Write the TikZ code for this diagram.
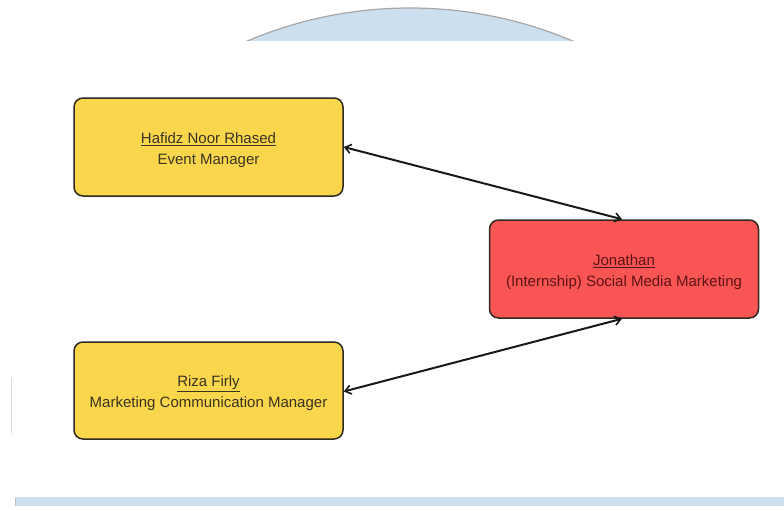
\documentclass[tikz,border=0pt]{standalone}
\usepackage{fontspec}
\setmainfont{Liberation Sans}
\usetikzlibrary{arrows.meta}
\definecolor{boxyellow}{HTML}{FAD64C}
\definecolor{boxred}{HTML}{FA5555}
\definecolor{edgedark}{HTML}{2E2A22}
\definecolor{txtyellow}{HTML}{3A3222}
\definecolor{txtred}{HTML}{5E1414}
\definecolor{paleblue}{HTML}{CCDFEE}
\newcommand{\topstrut}{\rule{0pt}{17pt}}
\tikzset{
  rolebox/.style={draw=edgedark, line width=1.5pt, rounded corners=9pt,
    minimum width=269pt, minimum height=98pt, align=center,
    font=\fontsize{15pt}{21pt}\selectfont, inner sep=0pt},
  yellowbox/.style={rolebox, fill=boxyellow, text=txtyellow},
  redbox/.style={rolebox, fill=boxred, text=txtred},
  link/.style={draw=black!90, line width=2pt,
    {Straight Barb[length=6pt,width=9pt,line width=1.6pt]}-{Straight Barb[length=6pt,width=9pt,line width=1.6pt]}}
}
\begin{document}
\begin{tikzpicture}[x=1pt,y=-1pt]
\useasboundingbox (0,0) rectangle (784,506);
% top arc decoration
\begin{scope}
  \clip (0,0) rectangle (784,40);
  \draw[fill=paleblue, draw=black!35, line width=1.2pt] (410,424) circle[radius=416];
\end{scope}
% bottom band
\fill[paleblue] (15,497) rectangle (784,506);
\draw[black!25, line width=1pt] (15.5,497) -- (15.5,506);
\draw[black!15, line width=0.6pt] (15,497) -- (784,497);
% left faint line
\draw[black!15, line width=1pt] (11.5,378) -- (11.5,433);
% boxes
\node[yellowbox] (h) at (208.5,147) {\topstrut\underline{Hafidz Noor Rhased}\\Event Manager};
\node[redbox] (j) at (624,269) {\topstrut\underline{Jonathan}\\(Internship) Social Media Marketing};
\node[yellowbox, minimum height=97pt] (r) at (208.5,390.5) {\topstrut\underline{Riza Firly}\\Marketing Communication Manager};
% connectors
\draw[link] (h.east) -- ([xshift=-2pt]j.north);
\draw[link] ([xshift=-2pt]j.south) -- ([yshift=-1pt]r.east);
\end{tikzpicture}
\end{document}
